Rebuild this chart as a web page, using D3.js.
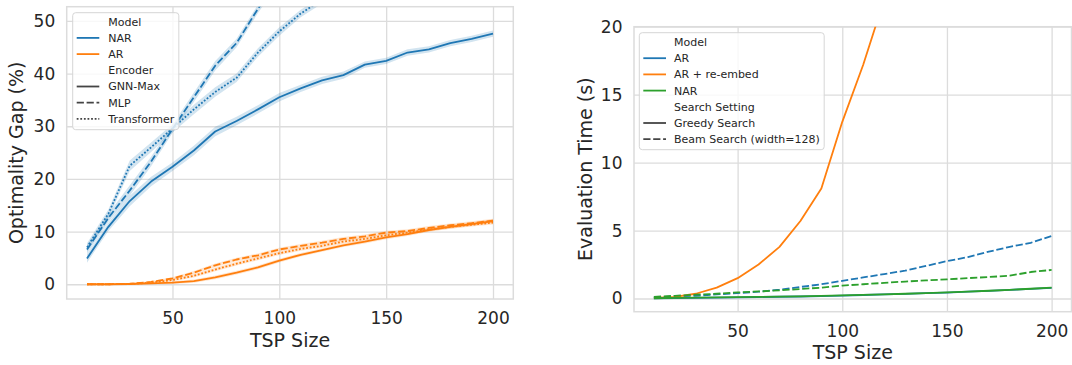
<!DOCTYPE html>
<html><head><meta charset="utf-8">
<script src="https://cdn.jsdelivr.net/npm/d3@7"></script>
<style>
body{margin:0;background:#fff;}
text{font-family:"DejaVu Sans",sans-serif;fill:#262626;}
</style></head>
<body>
<svg id="c" width="1072" height="365"></svg>
<script>
// ---------- data ----------
const tspSizes = [10,20,30,40,50,60,70,80,90,100,110,120,130,140,150,160,170,180,190,200];

// Left panel: Optimality gap (%)
const narGnnMax     = [4.9,10.9,15.8,19.5,22.3,25.4,29.0,31.0,33.2,35.5,37.2,38.7,39.7,41.7,42.4,44.0,44.6,45.8,46.6,47.6];
const narMlp        = [6.6,12.6,17.8,23.3,29.5,35.5,41.5,45.8,52.3,58.0];
const narTransformer= [7.0,13.4,22.5,26.0,29.6,33.2,36.5,39.2,44.0,48.0,51.4,54.0];
const arGnnMax      = [0.0,0.0,0.05,0.15,0.3,0.6,1.3,2.2,3.2,4.5,5.6,6.5,7.4,8.1,8.9,9.5,10.3,10.9,11.4,12.0];
const arMlp         = [0.0,0.0,0.1,0.45,1.1,2.2,3.6,4.7,5.5,6.6,7.3,7.9,8.6,9.1,9.8,10.1,10.7,11.2,11.6,12.1];
const arTransformer = [0.0,0.0,0.05,0.3,0.8,1.6,2.8,3.9,4.9,5.9,6.7,7.3,8.1,8.6,9.3,9.8,10.4,10.9,11.3,11.7];
const narCiHalf = [0.8,0.8,1.0,0.9,0.8,0.9,0.9,0.8,0.8,0.8,0.7,0.7,0.7,0.6,0.6,0.6,0.6,0.6,0.6,0.6];
const arCiHalf  = [0.05,0.05,0.1,0.15,0.25,0.3,0.35,0.35,0.35,0.35,0.35,0.35,0.35,0.35,0.35,0.35,0.35,0.35,0.35,0.35];

// Right panel: Evaluation time (s)
const arReembedGreedy = [0.05,0.12,0.35,0.8,1.5,2.5,3.8,5.7,8.1,13.0,17.2,22.0];
const arGreedy   = [0.01,0.03,0.05,0.07,0.09,0.11,0.13,0.15,0.18,0.22,0.26,0.30,0.34,0.39,0.44,0.50,0.56,0.63,0.71,0.79];
const arBeam     = [0.1,0.15,0.2,0.3,0.4,0.5,0.65,0.85,1.05,1.3,1.55,1.8,2.05,2.4,2.75,3.05,3.45,3.8,4.1,4.6];
const narGreedy  = [0.02,0.04,0.06,0.08,0.1,0.12,0.14,0.16,0.19,0.23,0.27,0.31,0.35,0.4,0.45,0.51,0.57,0.64,0.72,0.8];
const narBeam    = [0.12,0.2,0.28,0.35,0.45,0.52,0.6,0.7,0.8,0.95,1.05,1.15,1.25,1.33,1.41,1.5,1.58,1.68,1.95,2.1];

const xTickValues = [50,100,150,200];
const leftYTicks  = [0,10,20,30,40,50];
const rightYTicks = [0,5,10,15,20];

const leftLegend  = [["Model",null,null],["NAR","#1f77b4","solid"],["AR","#ff7f0e","solid"],["Encoder",null,null],["GNN-Max","#444","solid"],["MLP","#444","dash"],["Transformer","#444","dot"]];
const rightLegend = [["Model",null,null],["AR","#1f77b4","solid"],["AR + re-embed","#ff7f0e","solid"],["NAR","#2ca02c","solid"],["Search Setting",null,null],["Greedy Search","#444","solid"],["Beam Search (width=128)","#444","dash"]];

// ---------- drawing ----------
const BLUE="#1f77b4", ORANGE="#ff7f0e", GREEN="#2ca02c";
const LW=1.8;
const dashOf = s => s==="dash" ? `${4*LW},${1.5*LW}` : s==="dot" ? `${LW},${LW}` : null;
const svg = d3.select("#c");
const GRID="#dcdcdc";

function panel(cfg){
  const {x0,x1,y0,y1,yDomain,yTicks,yLabel,yLabelX,id} = cfg;
  const x = d3.scaleLinear().domain([0.5,209.5]).range([x0,x1]);
  const y = d3.scaleLinear().domain(yDomain).range([y1,y0]);
  const g = svg.append("g");
  g.append("clipPath").attr("id",id).append("rect").attr("x",x0).attr("y",y0).attr("width",x1-x0).attr("height",y1-y0);
  // grid
  const gx = g.append("g").attr("transform",`translate(0,${y1})`)
    .call(d3.axisBottom(x).tickValues(xTickValues).tickSize(-(y1-y0)).tickPadding(13));
  const gy = g.append("g").attr("transform",`translate(${x0},0)`)
    .call(d3.axisLeft(y).tickValues(yTicks).tickSize(-(x1-x0)).tickPadding(11.5));
  [gx,gy].forEach(a=>{
    a.select(".domain").remove();
    a.selectAll("line").attr("stroke",GRID).attr("stroke-width",1.3);
    a.selectAll("text").attr("font-size",17).attr("fill","#262626").style("font-family","DejaVu Sans");
  });
  g.append("rect").attr("x",x0).attr("y",y0).attr("width",x1-x0).attr("height",y1-y0)
    .attr("fill","none").attr("stroke",GRID).attr("stroke-width",1.5);
  g.append("text").attr("x",(x0+x1)/2).attr("y",y1+47.7).attr("text-anchor","middle").attr("font-size",19).text("TSP Size");
  g.append("text").attr("transform",`translate(${yLabelX},${(y0+y1)/2}) rotate(-90)`).attr("text-anchor","middle").attr("font-size",19).text(yLabel);
  const plot = g.append("g").attr("clip-path",`url(#${id})`);
  return {x,y,g,plot};
}

function drawLine(p, vals, color, style, ci){
  const pts = vals.map((v,i)=>[tspSizes[i],v,ci?ci[i]:0]);
  if(ci){
    p.plot.append("path").datum(pts)
      .attr("d", d3.area().x(d=>p.x(d[0])).y0(d=>p.y(d[1]-d[2])).y1(d=>p.y(d[1]+d[2])))
      .attr("fill",color).attr("fill-opacity",0.2).attr("stroke","none");
  }
  p.plot.append("path").datum(pts)
    .attr("d", d3.line().x(d=>p.x(d[0])).y(d=>p.y(d[1])))
    .attr("fill","none").attr("stroke",color).attr("stroke-width",LW)
    .attr("stroke-dasharray",dashOf(style)).attr("stroke-linejoin","round");
}

function legend(entries, fx, fy, rowY0, handleX0, handleX1, textX){
  const g = svg.append("g");
  const rect = g.append("rect");
  let maxEnd = 0;
  entries.forEach((e,i)=>{
    const cy = rowY0 + i*16.2;
    if(e[1]){
      g.append("line").attr("x1",handleX0).attr("x2",handleX1).attr("y1",cy).attr("y2",cy)
        .attr("stroke",e[1]).attr("stroke-width",LW).attr("stroke-dasharray",dashOf(e[2]));
    }
    const t = g.append("text").attr("x",textX).attr("y",cy+3.9).attr("font-size",11).text(e[0]);
    maxEnd = Math.max(maxEnd, textX + t.node().getComputedTextLength());
  });
  const h = entries.length*16.2 + 3.6;
  rect.attr("x",fx).attr("y",fy).attr("width",maxEnd+4.5-fx).attr("height",h).attr("rx",3)
    .attr("fill","#fff").attr("fill-opacity",0.8).attr("stroke","#d6d6d6").attr("stroke-width",1);
}

// Left panel
const L = panel({x0:66.7,x1:513.3,y0:6.7,y1:299,yDomain:[-2.8,52.7],yTicks:leftYTicks,yLabel:"Optimality Gap (%)",yLabelX:22.5,id:"clipL"});
drawLine(L, narGnnMax, BLUE, "solid", narCiHalf);
drawLine(L, narMlp, BLUE, "dash", narCiHalf);
drawLine(L, narTransformer, BLUE, "dot", narCiHalf);
drawLine(L, arGnnMax, ORANGE, "solid", arCiHalf);
drawLine(L, arMlp, ORANGE, "dash", arCiHalf);
drawLine(L, arTransformer, ORANGE, "dot", arCiHalf);
legend(leftLegend, 72.7, 12.7, 21.7, 76.7, 99.3, 108.3);

// Right panel
const R = panel({x0:634,x1:1071.5,y0:26.7,y1:311.7,yDomain:[-0.97,20],yTicks:rightYTicks,yLabel:"Evaluation Time (s)",yLabelX:591.5,id:"clipR"});
drawLine(R, arBeam, BLUE, "dash");
drawLine(R, arReembedGreedy, ORANGE, "solid");
drawLine(R, arGreedy, BLUE, "solid");
drawLine(R, narGreedy, GREEN, "solid");
drawLine(R, narBeam, GREEN, "dash");
legend(rightLegend, 639.3, 32.7, 42, 643.3, 666, 674);
</script>
</body></html>
